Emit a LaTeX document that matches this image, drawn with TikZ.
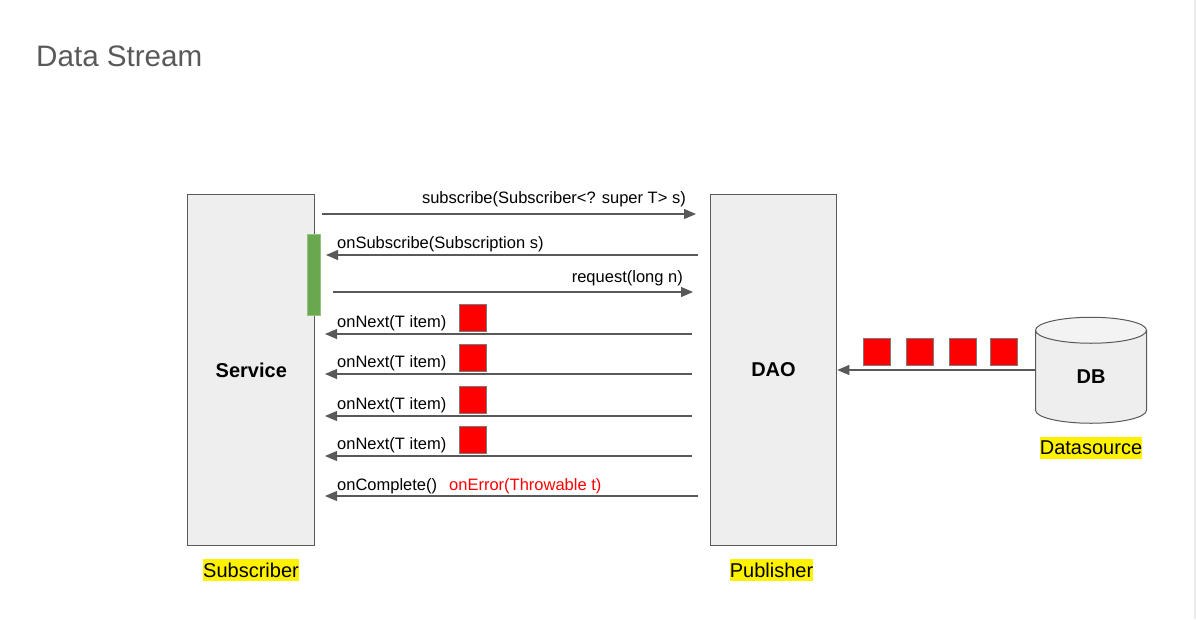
\documentclass[tikz,border=0pt]{standalone}
\usepackage{fontspec}
\setmainfont{Liberation Sans}
\usetikzlibrary{arrows.meta,shapes.geometric}
\definecolor{linegray}{HTML}{595959}
\definecolor{boxgray}{HTML}{EEEEEE}
\definecolor{topgray}{HTML}{F3F3F3}
\definecolor{barfill}{HTML}{6AA84F}
\definecolor{barline}{HTML}{93C47D}
\tikzset{
  actor/.style={draw=linegray,fill=boxgray,line width=1pt,minimum width=126.6pt,minimum height=350.5pt,inner sep=0pt,font=\fontsize{20}{24}\selectfont\bfseries},
  role/.style={fill=yellow,inner sep=0pt,minimum height=22pt,font=\fontsize{20}{24}\selectfont},
  msg/.style={draw=linegray,line width=1.1pt,-{Triangle[length=12pt,width=10pt]}},
  msgtext/.style={inner sep=0pt,font=\fontsize{16.5}{20}\selectfont},
  item/.style={draw=linegray!80,fill=red,line width=1pt,minimum size=27pt,inner sep=0pt}
}
\begin{document}
\begin{tikzpicture}[x=1pt,y=-1pt]
  \useasboundingbox (0,0) rectangle (1196,619);
  \draw[black!8,line width=1.5pt] (1195,0) -- (1195,619);
  \node[anchor=base west,inner sep=0pt,text=linegray,font=\fontsize{29.6}{34}\selectfont] (title) at (36,66) {Data Stream};

  % subscriber and publisher
  \node[actor] (service) at (250.8,370) {\hspace{1pt}Service};
  \node[actor] (dao) at (773.5,370) {DAO};
  \node[role] (subscriber) at (251,570) {Subscriber};
  \node[role] (publisher) at (771.5,570) {Publisher};
  \node[draw=barline,fill=barfill,line width=1pt,minimum width=13.5pt,minimum height=81pt,inner sep=0pt] (bar) at (314,274.5) {};

  % calls between them
  \coordinate (subA) at (322,214);
  \coordinate (subB) at (696,214);
  \draw[msg] (subA) -- (subB);
  \node[msgtext,anchor=base east] (subtext) at (686,203.5) {subscribe(Subscriber<? super T> s)};
  \coordinate (onsubA) at (698,255);
  \coordinate (onsubB) at (326,255);
  \draw[msg] (onsubA) -- (onsubB);
  \node[msgtext,anchor=base west] (onsubtext) at (337,248) {onSubscribe(Subscription s)};
  \coordinate (reqA) at (333,292);
  \coordinate (reqB) at (693,292);
  \draw[msg] (reqA) -- (reqB);
  \node[msgtext,anchor=base east] (reqtext) at (683,282) {request(long n)};

  % items
  \foreach \y/\sy [count=\i] in {334/317.5,374/358,416/399.5,456/439.5}{
    \coordinate (nextA\i) at (692,\y);
    \coordinate (nextB\i) at (325,\y);
    \draw[msg] (nextA\i) -- (nextB\i);
    \node[msgtext,anchor=base west] (nexttext\i) at (337,\y-7) {onNext(T item)};
    \node[item] (next\i) at (473,\sy) {};
  }

  \coordinate (doneA) at (698,496);
  \coordinate (doneB) at (325,496);
  \draw[msg] (doneA) -- (doneB);
  \node[msgtext,anchor=base west] (donetext) at (337,490) {onComplete()};
  \node[msgtext,anchor=base west,text=red] (errtext) at (449,490) {onError(Throwable t)};

  % datasource
  \node[cylinder,shape border rotate=90,draw=linegray,line width=1pt,cylinder uses custom fill,cylinder body fill=boxgray,cylinder end fill=topgray,aspect=0.9,minimum width=111pt,minimum height=106pt,inner sep=0pt,font=\fontsize{20}{24}\selectfont\bfseries] (db) at (1091,377) {DB};
  \node[role] (datasource) at (1091,447.5) {Datasource};
  \draw[msg] (db.west |- dao) -- (dao.east);
  \foreach \x [count=\i] in {876.5,919.5,962.5,1004}{
    \node[item] (row\i) at (\x,351.5) {};
  }
\end{tikzpicture}
\end{document}
